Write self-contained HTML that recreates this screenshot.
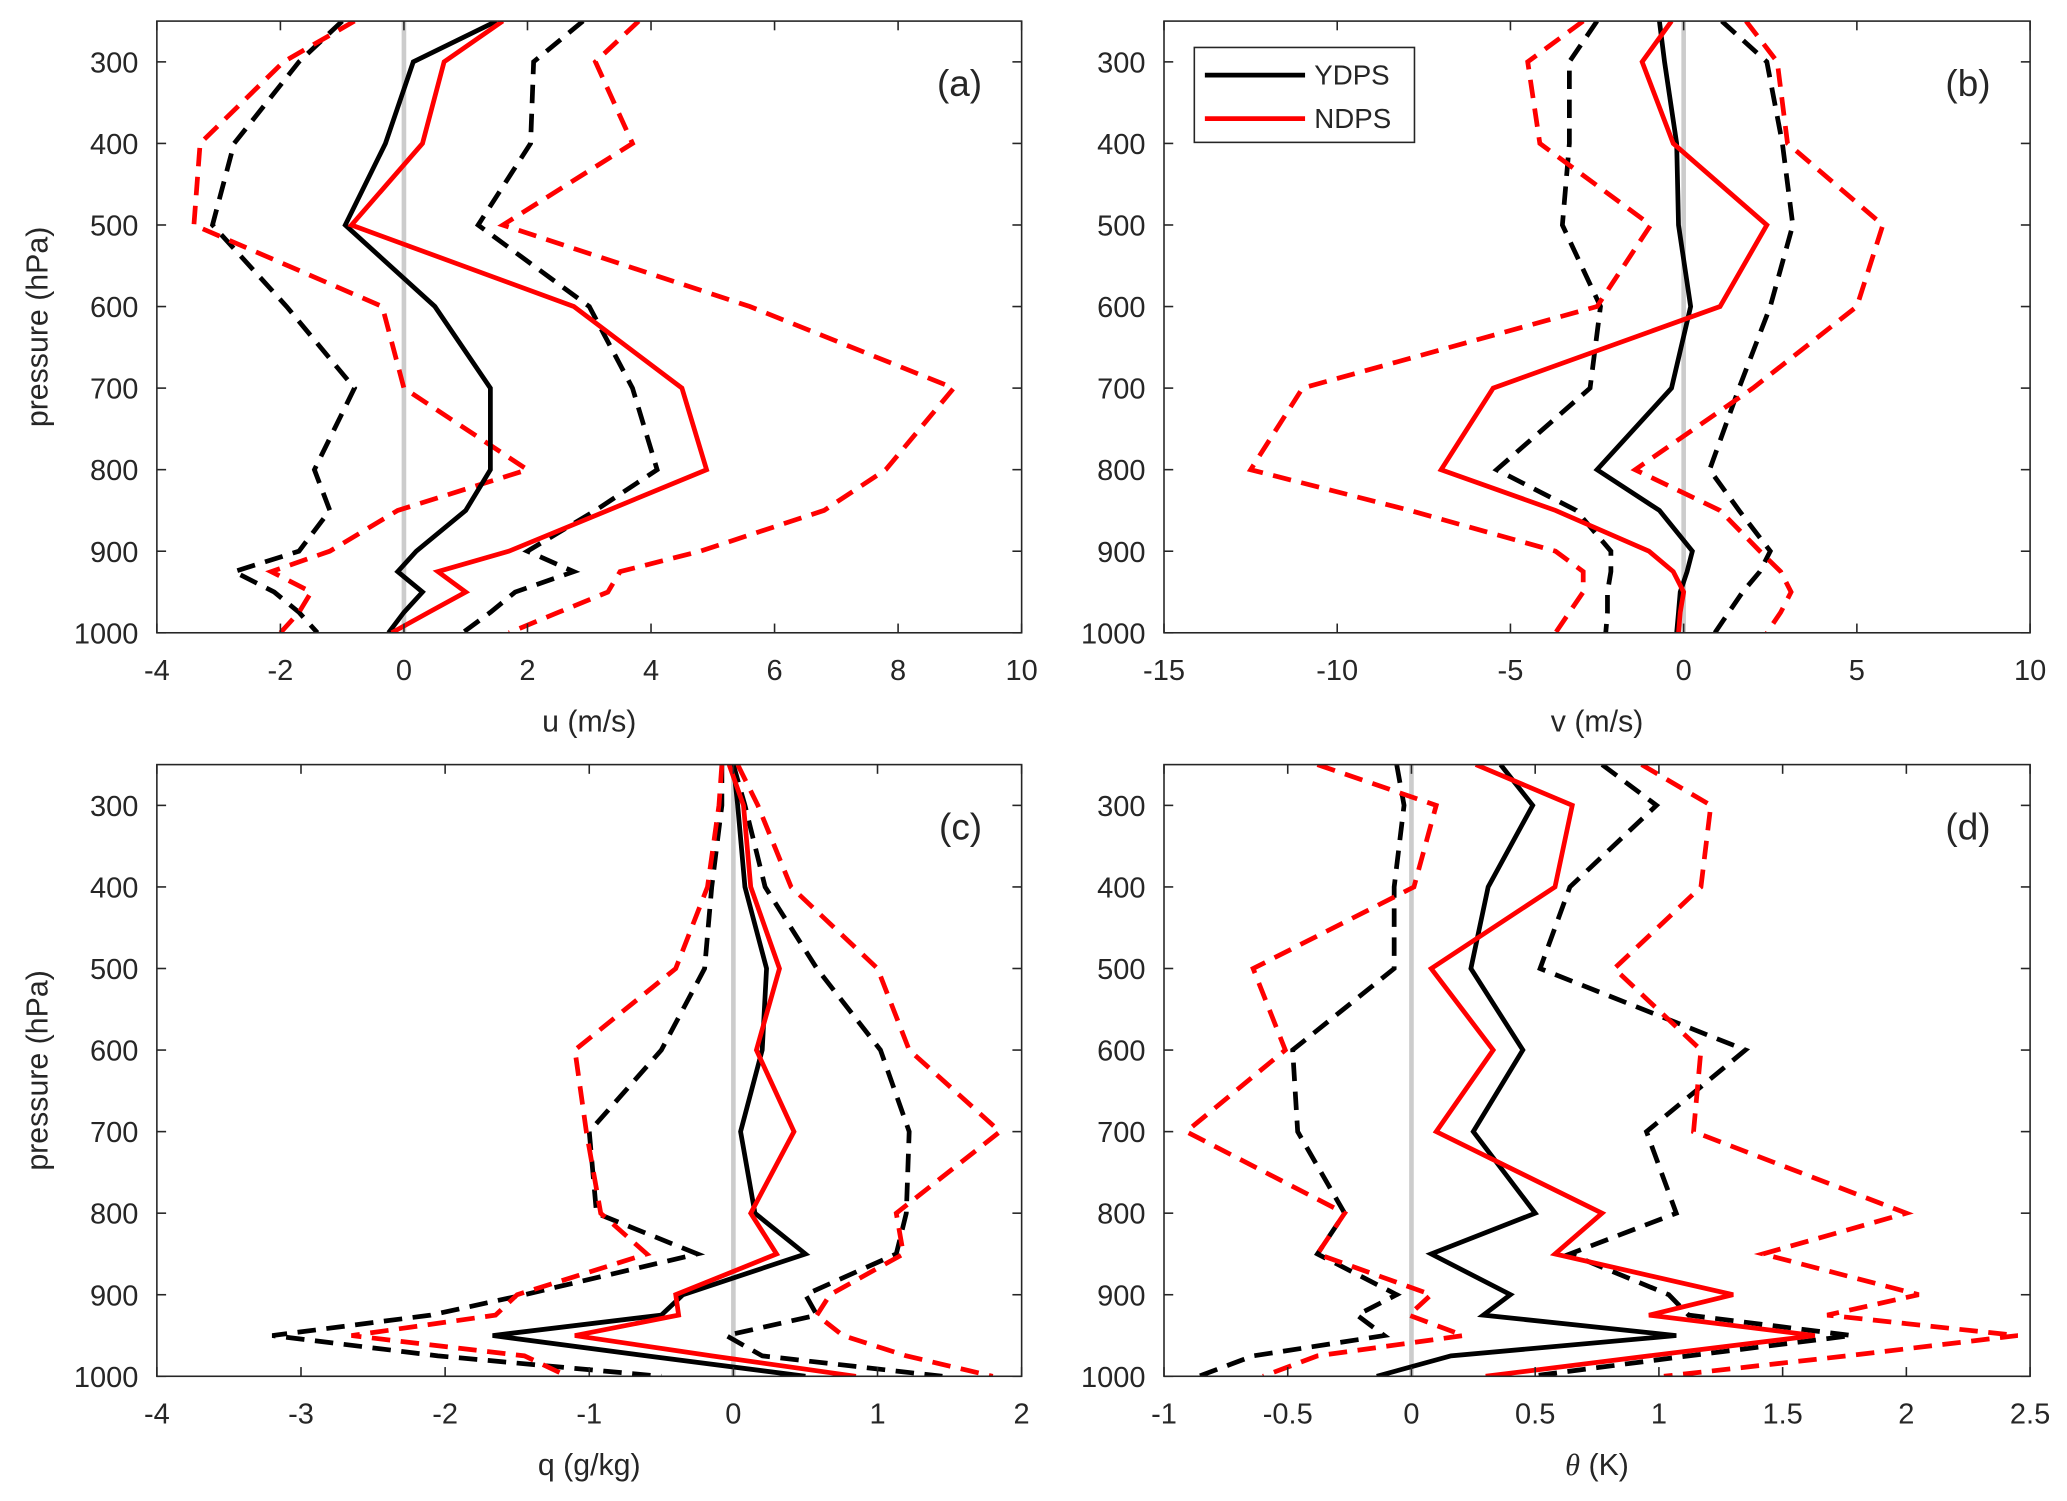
<!DOCTYPE html>
<html><head><meta charset="utf-8">
<style>
html,body{margin:0;padding:0;background:#fff;}
svg{display:block;}
text{font-family:"Liberation Sans",sans-serif;fill:#262626;}
</style></head>
<body>
<svg id="fig" width="2067" height="1501" viewBox="0 0 1568 1138.6" preserveAspectRatio="none" xmlns="http://www.w3.org/2000/svg"></svg>
<script>
const levels=[250,300,400,500,600,700,800,850,900,925,950,975,1000];
const pTicks=[300,400,500,600,700,800,900,1000];
// panel a: u
const aYmean=[1.5,0.15,-0.3,-0.95,0.5,1.4,1.4,1.0,0.2,-0.1,0.3,0.0,-0.25];
const aNmean=[1.6,0.65,0.3,-0.85,2.75,4.5,4.9,3.3,1.7,0.55,1.0,0.4,-0.2];
const aYlo=[-1.0,-1.7,-2.75,-3.1,-1.9,-0.8,-1.45,-1.2,-1.7,-2.75,-2.1,-1.7,-1.4];
const aNlo=[-0.8,-1.95,-3.3,-3.4,-0.35,0,2.0,-0.1,-1.2,-2.15,-1.5,-1.7,-2.0];
const aYhi=[2.9,2.1,2.05,1.2,3.0,3.7,4.1,3.1,2.0,2.75,1.8,1.4,0.95];
const aNhi=[3.8,3.1,3.7,1.6,5.6,8.9,7.8,6.8,4.8,3.5,3.3,2.5,1.7];
// panel b: v
const bYmean=[-0.7,-0.55,-0.2,-0.15,0.2,-0.35,-2.5,-0.7,0.25,0.1,-0.1,-0.15,-0.2];
const bNmean=[-0.35,-1.2,-0.3,2.4,1.05,-5.5,-7.0,-3.7,-1.0,-0.3,0,-0.1,-0.15];
const bYlo=[-2.5,-3.3,-3.3,-3.5,-2.4,-2.7,-5.4,-3.1,-2.1,-2.1,-2.2,-2.2,-2.25];
const bNlo=[-2.9,-4.5,-4.15,-0.95,-2.5,-11,-12.5,-7.9,-3.7,-2.9,-2.9,-3.3,-3.7];
const bYhi=[1.1,2.4,2.85,3.15,2.5,1.6,0.75,1.6,2.5,2.2,1.7,1.3,0.9];
const bNhi=[1.8,2.7,3.0,5.75,5.0,2.0,-1.4,1.05,2.2,2.8,3.1,2.8,2.4];
// panel c: q
const cYmean=[0,0.03,0.08,0.23,0.2,0.05,0.15,0.5,-0.35,-0.5,-1.67,-0.6,0.5];
const cNmean=[-0.03,0.07,0.12,0.32,0.16,0.42,0.12,0.3,-0.4,-0.38,-1.1,-0.15,0.85];
const cYlo=[-0.08,-0.08,-0.15,-0.2,-0.5,-1.0,-0.95,-0.25,-1.45,-2.1,-3.2,-2.05,-0.5];
const cNlo=[-0.08,-0.1,-0.18,-0.4,-1.1,-1.02,-0.92,-0.6,-1.5,-1.65,-2.65,-1.45,-1.15];
const cYhi=[0,0.08,0.22,0.58,1.02,1.22,1.2,1.13,0.5,0.58,-0.05,0.2,1.45];
const cNhi=[0.03,0.17,0.4,1.0,1.22,1.85,1.13,1.18,0.67,0.58,0.76,1.2,1.8];
// panel d: theta
const dYmean=[0.36,0.49,0.31,0.24,0.45,0.25,0.5,0.08,0.4,0.29,1.07,0.16,-0.14];
const dNmean=[0.26,0.65,0.58,0.08,0.33,0.1,0.77,0.58,1.3,0.96,1.63,0.96,0.3];
const dYlo=[-0.06,-0.03,-0.07,-0.07,-0.48,-0.46,-0.27,-0.38,-0.06,-0.22,-0.11,-0.64,-0.86];
const dNlo=[-0.38,0.1,0.01,-0.64,-0.51,-0.91,-0.27,-0.38,0.08,-0.01,0.21,-0.38,-0.6];
const dYhi=[0.77,0.99,0.64,0.52,1.35,0.95,1.07,0.64,1.04,1.12,1.78,1.12,0.48];
const dNhi=[0.93,1.21,1.17,0.82,1.17,1.14,2.0,1.42,2.05,1.68,2.45,1.76,1.02];

const xTicksA=[-4,-2,0,2,4,6,8,10];
const xTicksB=[-15,-10,-5,0,5,10];
const xTicksC=[-4,-3,-2,-1,0,1,2];
const xTicksD=[-1,-0.5,0,0.5,1,1.5,2,2.5];

const NS="http://www.w3.org/2000/svg";
const svg=document.getElementById('fig');
function mk(tag,attrs,parent){const e=document.createElementNS(NS,tag);for(const k in attrs)e.setAttribute(k,attrs[k]);(parent||svg).appendChild(e);return e;}

function panel(id,x0,x1,y0,y1,xmin,xmax,xticks,xlabel,letter,series,showLegend){
  const g=mk('g',{});
  
  
  const sx=v=>x0+(v-xmin)/(xmax-xmin)*(x1-x0);
  const sy=p=>y0+(p-250)/(1000-250)*(y1-y0);
  const cp=mk('clipPath',{id:'clip'+id},g);
  mk('rect',{x:x0,y:y0,width:x1-x0,height:y1-y0},cp);
  const zl=mk('line',{x1:sx(0),x2:sx(0),y1:y0,y2:y1,stroke:'#cccccc','stroke-width':3.5},g);
  
  
  const sg=mk('g',{'clip-path':'url(#clip'+id+')'},g);
  series.forEach(s=>{
    const pts=s.vals.map((v,i)=>sx(v).toFixed(1)+','+sy(levels[i]).toFixed(1)).join(' ');
    const a={points:pts,fill:'none',stroke:s.color,'stroke-width':3.6,'stroke-linejoin':'miter'};
    if(s.dash)a['stroke-dasharray']='14,8';
    const pl=mk('polyline',a,sg);
    
    
  });
  const ax=mk('rect',{x:x0,y:y0,width:x1-x0,height:y1-y0,fill:'none',stroke:'#262626','stroke-width':1.2},g);
  
  
  pTicks.forEach(p=>{
    const y=sy(p);
    mk('line',{x1:x0,x2:x0+7,y1:y,y2:y,stroke:'#262626','stroke-width':1.2},g);
    mk('line',{x1:x1,x2:x1-7,y1:y,y2:y,stroke:'#262626','stroke-width':1.2},g);
    const t=mk('text',{x:x0-14,y:y+8,'text-anchor':'end','font-size':22},g);
    t.textContent=p;
    
    
  });
  xticks.forEach(v=>{
    const x=sx(v);
    mk('line',{x1:x,x2:x,y1:y1,y2:y1-7,stroke:'#262626','stroke-width':1.2},g);
    mk('line',{x1:x,x2:x,y1:y0,y2:y0+7,stroke:'#262626','stroke-width':1.2},g);
    const t=mk('text',{x:x,y:y1+36,'text-anchor':'middle','font-size':22},g);
    t.textContent=v;
    
    
  });
  const xl=mk('text',{x:(x0+x1)/2,y:y1+75,'text-anchor':'middle','font-size':23},g);
  if(id==='d'){xl.innerHTML='<tspan font-style="italic" font-family="Liberation Serif">θ</tspan> (K)';}else xl.textContent=xlabel;
  
  
  const lt=mk('text',{x:x1-30,y:y0+57,'text-anchor':'end','font-size':28},g);
  lt.textContent=letter;
  
  
  if(x0<500){
    const yl=mk('text',{x:0,y:0,'text-anchor':'middle','font-size':23,transform:'translate(36,'+((y0+y1)/2)+') rotate(-90)'},g);
    yl.textContent='pressure (hPa)';
    
    
  }
  if(showLegend){
    const lg=mk('g',{},g);
    
    
    mk('rect',{x:906,y:36,width:167,height:72,fill:'#fff',stroke:'#262626','stroke-width':1.2},lg);
    [['YDPS','#000',57],['NDPS','#ff0000',90]].forEach(e=>{
      const le=mk('g',{},lg);
      
      
      mk('line',{x1:914,x2:990,y1:e[2],y2:e[2],stroke:e[1],'stroke-width':3.6},le);
      const t=mk('text',{x:997,y:e[2]+7,'font-size':21},le);
      t.textContent=e[0];
    });
  }
}
function set(p,Ym,Nm,Yl,Nl,Yh,Nh){return[
 {name:'ydps-lower',vals:Yl,color:'#000',dash:true},
 {name:'ydps-upper',vals:Yh,color:'#000',dash:true},
 {name:'ndps-lower',vals:Nl,color:'#ff0000',dash:true},
 {name:'ndps-upper',vals:Nh,color:'#ff0000',dash:true},
 {name:'ydps-mean',vals:Ym,color:'#000',dash:false},
 {name:'ndps-mean',vals:Nm,color:'#ff0000',dash:false}];}
panel('a',119,775,16,480,-4,10,xTicksA,'u (m/s)','(a)',set('a',aYmean,aNmean,aYlo,aNlo,aYhi,aNhi),false);
panel('b',883,1540,16,480,-15,10,xTicksB,'v (m/s)','(b)',set('b',bYmean,bNmean,bYlo,bNlo,bYhi,bNhi),true);
panel('c',119,775,580,1044,-4,2,xTicksC,'q (g/kg)','(c)',set('c',cYmean,cNmean,cYlo,cNlo,cYhi,cNhi),false);
panel('d',883,1540,580,1044,-1,2.5,xTicksD,'θ (K)','(d)',set('d',dYmean,dNmean,dYlo,dNlo,dYhi,dNhi),false);
</script>
</body></html>
